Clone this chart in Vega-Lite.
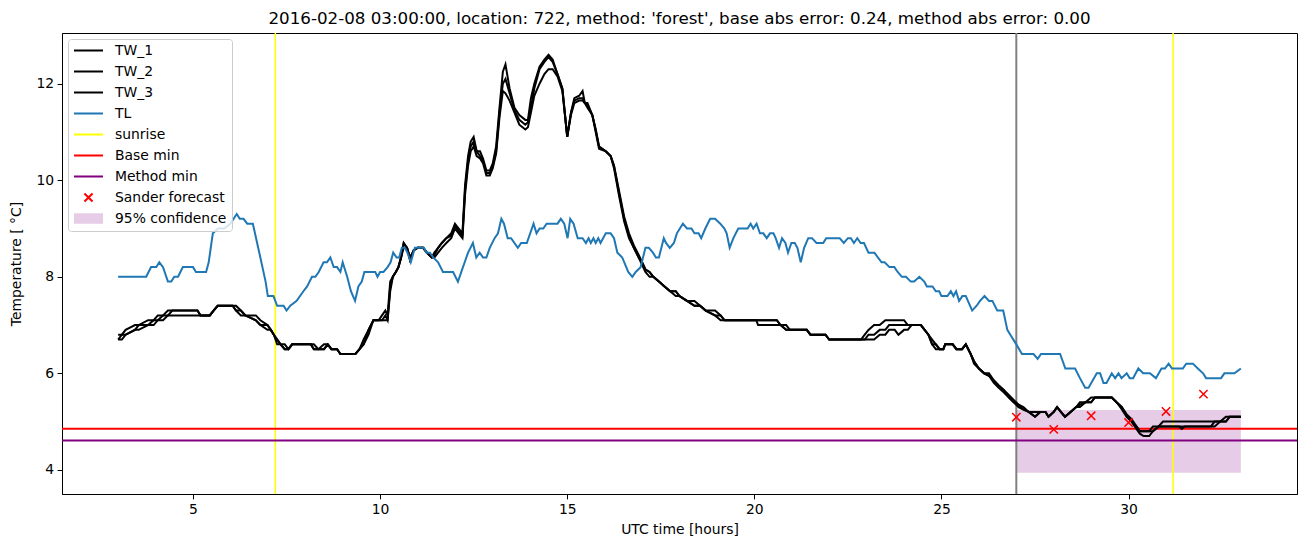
{
  "$schema": "https://vega.github.io/schema/vega-lite/v6.json",
  "width": 1235,
  "height": 461,
  "autosize": {"type": "none"},
  "padding": {"left": 62, "top": 33, "right": 13, "bottom": 53},
  "background": "white",
  "title": {"text": "2016-02-08 03:00:00, location: 722, method: 'forest', base abs error: 0.24, method abs error: 0.00", "font": "DejaVu Sans", "fontSize": 16.7, "fontWeight": "normal", "color": "black", "offset": 4, "anchor": "middle"},
  "config": {
    "view": {"stroke": "black", "strokeWidth": 1},
    "font": "DejaVu Sans",
    "axis": {"domainColor": "black", "tickColor": "black", "labelColor": "black", "titleColor": "black", "labelFont": "DejaVu Sans", "titleFont": "DejaVu Sans", "labelFontSize": 13.9, "titleFontSize": 13.9, "titleFontWeight": "normal", "tickSize": 4.9, "labelPadding": 3.5, "grid": false, "domainWidth": 1, "tickWidth": 1}
  },
  "datasets": {
    "tw": [
      {"t":3.0,"TW_1":6.8,"TW_2":6.7,"TW_3":6.7},{"t":3.1,"TW_1":6.8,"TW_2":6.7,"TW_3":6.8},{"t":3.2,"TW_1":6.9,"TW_2":6.8,"TW_3":6.8},{"t":3.45,"TW_1":7.0,"TW_2":6.9,"TW_3":6.9},{"t":3.55,"TW_1":7.0,"TW_2":6.9,"TW_3":7.0},{"t":3.8,"TW_1":7.1,"TW_2":7.0,"TW_3":7.0},{"t":3.95,"TW_1":7.1,"TW_2":7.0,"TW_3":7.1},{"t":4.06,"TW_1":7.2,"TW_2":7.1,"TW_3":7.1},{"t":4.2,"TW_1":7.2,"TW_2":7.1,"TW_3":7.2},{"t":4.33,"TW_1":7.3,"TW_2":7.2,"TW_3":7.2},{"t":4.45,"TW_1":7.3,"TW_2":7.2,"TW_3":7.3},{"t":5.12,"TW_1":7.3,"TW_2":7.2,"TW_3":7.3},{"t":5.2,"TW_1":7.2,"TW_2":7.2,"TW_3":7.2},{"t":5.45,"TW_1":7.2,"TW_2":7.2,"TW_3":7.2},{"t":5.55,"TW_1":7.3,"TW_2":7.3,"TW_3":7.3},{"t":5.66,"TW_1":7.4,"TW_2":7.4,"TW_3":7.4},{"t":6.06,"TW_1":7.4,"TW_2":7.4,"TW_3":7.4},{"t":6.15,"TW_1":7.3,"TW_2":7.3,"TW_3":7.4},{"t":6.28,"TW_1":7.3,"TW_2":7.2,"TW_3":7.3},{"t":6.4,"TW_1":7.2,"TW_2":7.2,"TW_3":7.2},{"t":6.68,"TW_1":7.2,"TW_2":7.1,"TW_3":7.1},{"t":6.8,"TW_1":7.1,"TW_2":7.0,"TW_3":7.0},{"t":6.99,"TW_1":7.0,"TW_2":6.9,"TW_3":7.0},{"t":7.08,"TW_1":6.9,"TW_2":6.9,"TW_3":6.9},{"t":7.16,"TW_1":6.8,"TW_2":6.8,"TW_3":6.8},{"t":7.25,"TW_1":6.7,"TW_2":6.6,"TW_3":6.7},{"t":7.34,"TW_1":6.6,"TW_2":6.6,"TW_3":6.6},{"t":7.45,"TW_1":6.6,"TW_2":6.5,"TW_3":6.5},{"t":7.55,"TW_1":6.5,"TW_2":6.5,"TW_3":6.5},{"t":7.65,"TW_1":6.6,"TW_2":6.6,"TW_3":6.6},{"t":8.15,"TW_1":6.6,"TW_2":6.6,"TW_3":6.6},{"t":8.23,"TW_1":6.6,"TW_2":6.5,"TW_3":6.5},{"t":8.35,"TW_1":6.5,"TW_2":6.5,"TW_3":6.5},{"t":8.5,"TW_1":6.5,"TW_2":6.5,"TW_3":6.6},{"t":8.6,"TW_1":6.6,"TW_2":6.6,"TW_3":6.6},{"t":8.7,"TW_1":6.5,"TW_2":6.5,"TW_3":6.5},{"t":8.85,"TW_1":6.5,"TW_2":6.5,"TW_3":6.5},{"t":8.94,"TW_1":6.4,"TW_2":6.4,"TW_3":6.4},{"t":9.34,"TW_1":6.4,"TW_2":6.4,"TW_3":6.4},{"t":9.45,"TW_1":6.5,"TW_2":6.5,"TW_3":6.5},{"t":9.56,"TW_1":6.7,"TW_2":6.6,"TW_3":6.6},{"t":9.69,"TW_1":6.9,"TW_2":6.8,"TW_3":6.9},{"t":9.82,"TW_1":7.1,"TW_2":7.1,"TW_3":7.1},{"t":9.96,"TW_1":7.1,"TW_2":7.1,"TW_3":7.1},{"t":10.05,"TW_1":7.2,"TW_2":7.1,"TW_3":7.1},{"t":10.14,"TW_1":7.3,"TW_2":7.1,"TW_3":7.2},{"t":10.2,"TW_1":7.2,"TW_2":7.1,"TW_3":7.1},{"t":10.27,"TW_1":7.9,"TW_2":7.7,"TW_3":7.8},{"t":10.34,"TW_1":8.0,"TW_2":8.0,"TW_3":8.0},{"t":10.42,"TW_1":8.1,"TW_2":8.1,"TW_3":8.1},{"t":10.49,"TW_1":8.2,"TW_2":8.2,"TW_3":8.2},{"t":10.56,"TW_1":8.4,"TW_2":8.4,"TW_3":8.4},{"t":10.63,"TW_1":8.7,"TW_2":8.6,"TW_3":8.7},{"t":10.72,"TW_1":8.6,"TW_2":8.6,"TW_3":8.6},{"t":10.8,"TW_1":8.35,"TW_2":8.4,"TW_3":8.35},{"t":10.9,"TW_1":8.55,"TW_2":8.55,"TW_3":8.55},{"t":11.0,"TW_1":8.6,"TW_2":8.6,"TW_3":8.6},{"t":11.15,"TW_1":8.6,"TW_2":8.6,"TW_3":8.6},{"t":11.25,"TW_1":8.5,"TW_2":8.5,"TW_3":8.5},{"t":11.38,"TW_1":8.4,"TW_2":8.4,"TW_3":8.4},{"t":11.45,"TW_1":8.5,"TW_2":8.4,"TW_3":8.45},{"t":11.55,"TW_1":8.6,"TW_2":8.5,"TW_3":8.6},{"t":11.65,"TW_1":8.7,"TW_2":8.6,"TW_3":8.7},{"t":11.77,"TW_1":8.8,"TW_2":8.7,"TW_3":8.8},{"t":11.9,"TW_1":8.9,"TW_2":8.8,"TW_3":8.85},{"t":12.0,"TW_1":9.1,"TW_2":9.0,"TW_3":9.05},{"t":12.1,"TW_1":9.0,"TW_2":8.9,"TW_3":8.95},{"t":12.2,"TW_1":8.9,"TW_2":8.8,"TW_3":8.85},{"t":12.27,"TW_1":9.9,"TW_2":9.7,"TW_3":9.8},{"t":12.35,"TW_1":10.5,"TW_2":10.3,"TW_3":10.4},{"t":12.42,"TW_1":10.8,"TW_2":10.6,"TW_3":10.7},{"t":12.5,"TW_1":10.9,"TW_2":10.7,"TW_3":10.8},{"t":12.58,"TW_1":10.6,"TW_2":10.5,"TW_3":10.6},{"t":12.67,"TW_1":10.6,"TW_2":10.45,"TW_3":10.5},{"t":12.75,"TW_1":10.45,"TW_2":10.35,"TW_3":10.4},{"t":12.84,"TW_1":10.2,"TW_2":10.1,"TW_3":10.15},{"t":12.93,"TW_1":10.2,"TW_2":10.1,"TW_3":10.15},{"t":13.01,"TW_1":10.35,"TW_2":10.25,"TW_3":10.3},{"t":13.1,"TW_1":10.7,"TW_2":10.55,"TW_3":10.6},{"t":13.19,"TW_1":11.5,"TW_2":11.3,"TW_3":11.4},{"t":13.28,"TW_1":12.25,"TW_2":11.85,"TW_3":12.0},{"t":13.35,"TW_1":12.4,"TW_2":11.8,"TW_3":12.1},{"t":13.46,"TW_1":11.9,"TW_2":11.65,"TW_3":11.8},{"t":13.59,"TW_1":11.5,"TW_2":11.4,"TW_3":11.45},{"t":13.72,"TW_1":11.35,"TW_2":11.15,"TW_3":11.25},{"t":13.88,"TW_1":11.25,"TW_2":11.05,"TW_3":11.15},{"t":13.95,"TW_1":11.25,"TW_2":11.1,"TW_3":11.2},{"t":14.03,"TW_1":11.7,"TW_2":11.4,"TW_3":11.5},{"t":14.12,"TW_1":12.0,"TW_2":11.75,"TW_3":11.9},{"t":14.26,"TW_1":12.35,"TW_2":12.0,"TW_3":12.3},{"t":14.39,"TW_1":12.5,"TW_2":12.2,"TW_3":12.45},{"t":14.5,"TW_1":12.6,"TW_2":12.3,"TW_3":12.55},{"t":14.61,"TW_1":12.5,"TW_2":12.3,"TW_3":12.45},{"t":14.74,"TW_1":12.2,"TW_2":12.15,"TW_3":12.2},{"t":14.87,"TW_1":11.9,"TW_2":11.85,"TW_3":11.9},{"t":15.0,"TW_1":10.9,"TW_2":10.9,"TW_3":10.9},{"t":15.1,"TW_1":11.4,"TW_2":11.35,"TW_3":11.4},{"t":15.19,"TW_1":11.7,"TW_2":11.6,"TW_3":11.65},{"t":15.32,"TW_1":11.75,"TW_2":11.65,"TW_3":11.7},{"t":15.41,"TW_1":11.85,"TW_2":11.65,"TW_3":11.7},{"t":15.47,"TW_1":11.6,"TW_2":11.6,"TW_3":11.6},{"t":15.54,"TW_1":11.6,"TW_2":11.5,"TW_3":11.55},{"t":15.67,"TW_1":11.35,"TW_2":11.35,"TW_3":11.35},{"t":15.76,"TW_1":11.05,"TW_2":11.0,"TW_3":11.05},{"t":15.85,"TW_1":10.7,"TW_2":10.65,"TW_3":10.7},{"t":16.03,"TW_1":10.6,"TW_2":10.6,"TW_3":10.6},{"t":16.16,"TW_1":10.5,"TW_2":10.5,"TW_3":10.5},{"t":16.25,"TW_1":10.3,"TW_2":10.25,"TW_3":10.3},{"t":16.38,"TW_1":9.8,"TW_2":9.7,"TW_3":9.75},{"t":16.52,"TW_1":9.25,"TW_2":9.15,"TW_3":9.2},{"t":16.65,"TW_1":8.9,"TW_2":8.8,"TW_3":8.85},{"t":16.78,"TW_1":8.65,"TW_2":8.6,"TW_3":8.6},{"t":16.91,"TW_1":8.45,"TW_2":8.4,"TW_3":8.4},{"t":17.0,"TW_1":8.3,"TW_2":8.25,"TW_3":8.3},{"t":17.09,"TW_1":8.15,"TW_2":8.1,"TW_3":8.15},{"t":17.2,"TW_1":8.1,"TW_2":8.0,"TW_3":8.1},{"t":17.3,"TW_1":8.0,"TW_2":8.0,"TW_3":8.0},{"t":17.45,"TW_1":7.9,"TW_2":7.9,"TW_3":7.9},{"t":17.6,"TW_1":7.8,"TW_2":7.8,"TW_3":7.8},{"t":17.75,"TW_1":7.7,"TW_2":7.7,"TW_3":7.7},{"t":17.9,"TW_1":7.7,"TW_2":7.6,"TW_3":7.7},{"t":18.0,"TW_1":7.6,"TW_2":7.6,"TW_3":7.6},{"t":18.2,"TW_1":7.5,"TW_2":7.5,"TW_3":7.5},{"t":18.4,"TW_1":7.5,"TW_2":7.4,"TW_3":7.4},{"t":18.55,"TW_1":7.4,"TW_2":7.4,"TW_3":7.4},{"t":18.7,"TW_1":7.3,"TW_2":7.3,"TW_3":7.3},{"t":18.95,"TW_1":7.3,"TW_2":7.2,"TW_3":7.2},{"t":19.1,"TW_1":7.2,"TW_2":7.1,"TW_3":7.2},{"t":19.2,"TW_1":7.1,"TW_2":7.1,"TW_3":7.1},{"t":20.05,"TW_1":7.1,"TW_2":7.1,"TW_3":7.1},{"t":20.1,"TW_1":7.1,"TW_2":7.0,"TW_3":7.1},{"t":20.6,"TW_1":7.1,"TW_2":7.0,"TW_3":7.1},{"t":20.7,"TW_1":7.0,"TW_2":7.0,"TW_3":7.0},{"t":20.85,"TW_1":7.0,"TW_2":6.9,"TW_3":6.9},{"t":20.95,"TW_1":6.9,"TW_2":6.9,"TW_3":6.9},{"t":21.4,"TW_1":6.9,"TW_2":6.9,"TW_3":6.9},{"t":21.5,"TW_1":6.8,"TW_2":6.8,"TW_3":6.8},{"t":21.9,"TW_1":6.8,"TW_2":6.8,"TW_3":6.8},{"t":22.0,"TW_1":6.7,"TW_2":6.7,"TW_3":6.7},{"t":22.85,"TW_1":6.7,"TW_2":6.7,"TW_3":6.7},{"t":22.95,"TW_1":6.8,"TW_2":6.7,"TW_3":6.7},{"t":23.05,"TW_1":6.9,"TW_2":6.7,"TW_3":6.8},{"t":23.2,"TW_1":7.0,"TW_2":6.7,"TW_3":6.8},{"t":23.35,"TW_1":7.0,"TW_2":6.8,"TW_3":6.9},{"t":23.5,"TW_1":7.1,"TW_2":6.8,"TW_3":6.9},{"t":23.6,"TW_1":7.1,"TW_2":6.9,"TW_3":7.0},{"t":23.75,"TW_1":7.1,"TW_2":6.9,"TW_3":7.0},{"t":23.85,"TW_1":7.1,"TW_2":6.8,"TW_3":7.0},{"t":24.0,"TW_1":7.1,"TW_2":6.9,"TW_3":7.0},{"t":24.1,"TW_1":7.0,"TW_2":6.9,"TW_3":7.0},{"t":24.2,"TW_1":7.0,"TW_2":7.0,"TW_3":7.0},{"t":24.45,"TW_1":7.0,"TW_2":7.0,"TW_3":7.0},{"t":24.55,"TW_1":6.9,"TW_2":6.9,"TW_3":6.9},{"t":24.65,"TW_1":6.8,"TW_2":6.8,"TW_3":6.8},{"t":24.75,"TW_1":6.7,"TW_2":6.6,"TW_3":6.6},{"t":24.85,"TW_1":6.6,"TW_2":6.5,"TW_3":6.6},{"t":24.95,"TW_1":6.5,"TW_2":6.5,"TW_3":6.5},{"t":25.05,"TW_1":6.5,"TW_2":6.5,"TW_3":6.5},{"t":25.1,"TW_1":6.6,"TW_2":6.6,"TW_3":6.6},{"t":25.3,"TW_1":6.6,"TW_2":6.6,"TW_3":6.6},{"t":25.4,"TW_1":6.5,"TW_2":6.5,"TW_3":6.5},{"t":25.55,"TW_1":6.5,"TW_2":6.5,"TW_3":6.5},{"t":25.65,"TW_1":6.6,"TW_2":6.6,"TW_3":6.6},{"t":25.78,"TW_1":6.4,"TW_2":6.4,"TW_3":6.4},{"t":25.87,"TW_1":6.25,"TW_2":6.2,"TW_3":6.25},{"t":26.0,"TW_1":6.1,"TW_2":6.1,"TW_3":6.1},{"t":26.14,"TW_1":6.0,"TW_2":6.0,"TW_3":6.0},{"t":26.27,"TW_1":6.0,"TW_2":5.95,"TW_3":5.95},{"t":26.4,"TW_1":5.85,"TW_2":5.8,"TW_3":5.85},{"t":26.53,"TW_1":5.75,"TW_2":5.7,"TW_3":5.75},{"t":26.67,"TW_1":5.65,"TW_2":5.6,"TW_3":5.65},{"t":26.8,"TW_1":5.55,"TW_2":5.5,"TW_3":5.5},{"t":26.93,"TW_1":5.45,"TW_2":5.4,"TW_3":5.4},{"t":27.06,"TW_1":5.35,"TW_2":5.3,"TW_3":5.35},{"t":27.19,"TW_1":5.3,"TW_2":5.25,"TW_3":5.25},{"t":27.33,"TW_1":5.2,"TW_2":5.2,"TW_3":5.2},{"t":27.5,"TW_1":5.2,"TW_2":5.1,"TW_3":5.1},{"t":27.64,"TW_1":5.2,"TW_2":5.2,"TW_3":5.2},{"t":27.78,"TW_1":5.2,"TW_2":5.2,"TW_3":5.2},{"t":27.86,"TW_1":5.1,"TW_2":5.1,"TW_3":5.1},{"t":28.0,"TW_1":5.2,"TW_2":5.2,"TW_3":5.2},{"t":28.09,"TW_1":5.3,"TW_2":5.3,"TW_3":5.3},{"t":28.19,"TW_1":5.2,"TW_2":5.2,"TW_3":5.2},{"t":28.3,"TW_1":5.1,"TW_2":5.1,"TW_3":5.1},{"t":28.45,"TW_1":5.2,"TW_2":5.2,"TW_3":5.2},{"t":28.6,"TW_1":5.3,"TW_2":5.3,"TW_3":5.3},{"t":28.7,"TW_1":5.4,"TW_2":5.3,"TW_3":5.35},{"t":28.85,"TW_1":5.4,"TW_2":5.4,"TW_3":5.4},{"t":29.0,"TW_1":5.5,"TW_2":5.4,"TW_3":5.4},{"t":29.1,"TW_1":5.5,"TW_2":5.5,"TW_3":5.5},{"t":29.55,"TW_1":5.5,"TW_2":5.5,"TW_3":5.5},{"t":29.68,"TW_1":5.4,"TW_2":5.4,"TW_3":5.4},{"t":29.82,"TW_1":5.3,"TW_2":5.25,"TW_3":5.3},{"t":29.95,"TW_1":5.15,"TW_2":5.1,"TW_3":5.1},{"t":30.08,"TW_1":5.05,"TW_2":5.0,"TW_3":5.0},{"t":30.21,"TW_1":4.9,"TW_2":4.85,"TW_3":4.9},{"t":30.3,"TW_1":4.8,"TW_2":4.75,"TW_3":4.8},{"t":30.4,"TW_1":4.8,"TW_2":4.7,"TW_3":4.8},{"t":30.55,"TW_1":4.8,"TW_2":4.7,"TW_3":4.8},{"t":30.65,"TW_1":4.9,"TW_2":4.8,"TW_3":4.8},{"t":30.8,"TW_1":4.9,"TW_2":4.9,"TW_3":4.9},{"t":30.92,"TW_1":5.0,"TW_2":4.9,"TW_3":4.9},{"t":31.35,"TW_1":5.0,"TW_2":4.9,"TW_3":4.9},{"t":31.42,"TW_1":5.0,"TW_2":4.85,"TW_3":4.9},{"t":31.5,"TW_1":5.0,"TW_2":4.9,"TW_3":4.9},{"t":32.2,"TW_1":5.0,"TW_2":4.9,"TW_3":4.9},{"t":32.3,"TW_1":5.0,"TW_2":4.9,"TW_3":5.0},{"t":32.45,"TW_1":5.0,"TW_2":5.0,"TW_3":5.0},{"t":32.6,"TW_1":5.0,"TW_2":5.0,"TW_3":5.1},{"t":32.7,"TW_1":5.1,"TW_2":5.1,"TW_3":5.1},{"t":33.0,"TW_1":5.1,"TW_2":5.1,"TW_3":5.1}
    ],
    "tl": [
      {"t":3.0,"v":8.0},{"t":3.75,"v":8.0},{"t":3.88,"v":8.2},{"t":4.02,"v":8.2},{"t":4.1,"v":8.3},{"t":4.2,"v":8.2},{"t":4.33,"v":7.9},{"t":4.42,"v":7.9},{"t":4.5,"v":8.0},{"t":4.6,"v":8.0},{"t":4.73,"v":8.2},{"t":5.0,"v":8.2},{"t":5.08,"v":8.1},{"t":5.35,"v":8.1},{"t":5.42,"v":8.3},{"t":5.53,"v":8.9},{"t":5.67,"v":9.0},{"t":5.83,"v":9.0},{"t":6.0,"v":9.1},{"t":6.17,"v":9.3},{"t":6.25,"v":9.2},{"t":6.35,"v":9.2},{"t":6.45,"v":9.1},{"t":6.6,"v":9.1},{"t":6.8,"v":8.4},{"t":6.94,"v":7.9},{"t":7.0,"v":7.6},{"t":7.15,"v":7.6},{"t":7.25,"v":7.4},{"t":7.42,"v":7.4},{"t":7.5,"v":7.3},{"t":7.6,"v":7.4},{"t":7.77,"v":7.5},{"t":7.95,"v":7.7},{"t":8.05,"v":7.8},{"t":8.18,"v":8.0},{"t":8.27,"v":8.0},{"t":8.36,"v":8.1},{"t":8.49,"v":8.3},{"t":8.58,"v":8.3},{"t":8.67,"v":8.4},{"t":8.76,"v":8.2},{"t":8.85,"v":8.2},{"t":8.94,"v":8.1},{"t":9.0,"v":8.3},{"t":9.12,"v":8.0},{"t":9.22,"v":7.7},{"t":9.33,"v":7.5},{"t":9.42,"v":7.8},{"t":9.51,"v":7.9},{"t":9.58,"v":8.1},{"t":9.87,"v":8.1},{"t":9.93,"v":8.0},{"t":10.0,"v":8.1},{"t":10.09,"v":8.1},{"t":10.2,"v":8.2},{"t":10.28,"v":8.3},{"t":10.35,"v":8.5},{"t":10.44,"v":8.4},{"t":10.51,"v":8.4},{"t":10.58,"v":8.6},{"t":10.66,"v":8.6},{"t":10.73,"v":8.5},{"t":10.82,"v":8.3},{"t":10.93,"v":8.6},{"t":11.06,"v":8.6},{"t":11.17,"v":8.6},{"t":11.24,"v":8.5},{"t":11.33,"v":8.5},{"t":11.42,"v":8.4},{"t":11.55,"v":8.3},{"t":11.68,"v":8.1},{"t":11.95,"v":8.1},{"t":12.08,"v":7.9},{"t":12.17,"v":8.1},{"t":12.26,"v":8.3},{"t":12.35,"v":8.5},{"t":12.48,"v":8.7},{"t":12.57,"v":8.4},{"t":12.66,"v":8.5},{"t":12.75,"v":8.4},{"t":12.84,"v":8.4},{"t":12.93,"v":8.6},{"t":13.06,"v":8.8},{"t":13.15,"v":8.9},{"t":13.24,"v":9.2},{"t":13.31,"v":9.1},{"t":13.41,"v":8.8},{"t":13.5,"v":8.8},{"t":13.68,"v":8.6},{"t":13.77,"v":8.7},{"t":13.92,"v":8.7},{"t":14.1,"v":9.1},{"t":14.18,"v":8.9},{"t":14.26,"v":9.0},{"t":14.36,"v":9.0},{"t":14.45,"v":9.1},{"t":14.74,"v":9.1},{"t":14.83,"v":9.2},{"t":14.92,"v":9.1},{"t":15.01,"v":8.8},{"t":15.08,"v":9.2},{"t":15.17,"v":9.1},{"t":15.28,"v":8.8},{"t":15.41,"v":8.8},{"t":15.5,"v":8.7},{"t":15.57,"v":8.8},{"t":15.63,"v":8.7},{"t":15.7,"v":8.8},{"t":15.76,"v":8.7},{"t":15.83,"v":8.8},{"t":15.89,"v":8.7},{"t":16.03,"v":8.9},{"t":16.16,"v":8.9},{"t":16.25,"v":8.8},{"t":16.34,"v":8.5},{"t":16.47,"v":8.4},{"t":16.63,"v":8.1},{"t":16.74,"v":8.0},{"t":16.83,"v":8.1},{"t":16.96,"v":8.2},{"t":17.09,"v":8.6},{"t":17.18,"v":8.6},{"t":17.29,"v":8.5},{"t":17.37,"v":8.4},{"t":17.45,"v":8.4},{"t":17.58,"v":8.8},{"t":17.64,"v":8.7},{"t":17.74,"v":8.6},{"t":17.85,"v":8.7},{"t":17.93,"v":8.9},{"t":18.09,"v":9.1},{"t":18.2,"v":9.0},{"t":18.32,"v":9.0},{"t":18.4,"v":8.9},{"t":18.51,"v":8.9},{"t":18.58,"v":8.8},{"t":18.69,"v":9.0},{"t":18.82,"v":9.2},{"t":18.95,"v":9.2},{"t":19.09,"v":9.1},{"t":19.2,"v":9.0},{"t":19.26,"v":8.9},{"t":19.34,"v":8.6},{"t":19.44,"v":8.8},{"t":19.57,"v":9.0},{"t":19.82,"v":9.0},{"t":19.9,"v":9.1},{"t":19.97,"v":9.0},{"t":20.06,"v":9.1},{"t":20.15,"v":8.9},{"t":20.24,"v":8.9},{"t":20.33,"v":8.8},{"t":20.42,"v":8.9},{"t":20.51,"v":8.9},{"t":20.57,"v":8.8},{"t":20.66,"v":8.6},{"t":20.74,"v":8.8},{"t":20.83,"v":8.7},{"t":20.9,"v":8.5},{"t":20.99,"v":8.7},{"t":21.08,"v":8.7},{"t":21.15,"v":8.6},{"t":21.24,"v":8.3},{"t":21.33,"v":8.6},{"t":21.44,"v":8.8},{"t":21.54,"v":8.8},{"t":21.66,"v":8.7},{"t":21.84,"v":8.7},{"t":21.92,"v":8.8},{"t":22.28,"v":8.8},{"t":22.39,"v":8.7},{"t":22.5,"v":8.8},{"t":22.58,"v":8.8},{"t":22.66,"v":8.7},{"t":22.75,"v":8.8},{"t":22.84,"v":8.7},{"t":22.93,"v":8.7},{"t":23.05,"v":8.5},{"t":23.21,"v":8.5},{"t":23.3,"v":8.4},{"t":23.4,"v":8.3},{"t":23.48,"v":8.3},{"t":23.61,"v":8.2},{"t":23.74,"v":8.2},{"t":23.83,"v":8.1},{"t":23.94,"v":8.0},{"t":24.05,"v":8.0},{"t":24.18,"v":7.9},{"t":24.27,"v":7.9},{"t":24.41,"v":8.0},{"t":24.54,"v":7.9},{"t":24.61,"v":7.8},{"t":24.76,"v":7.8},{"t":24.85,"v":7.7},{"t":24.94,"v":7.7},{"t":25.0,"v":7.6},{"t":25.16,"v":7.6},{"t":25.25,"v":7.7},{"t":25.32,"v":7.6},{"t":25.39,"v":7.7},{"t":25.47,"v":7.5},{"t":25.56,"v":7.6},{"t":25.65,"v":7.6},{"t":25.82,"v":7.3},{"t":25.94,"v":7.4},{"t":26.03,"v":7.5},{"t":26.15,"v":7.6},{"t":26.27,"v":7.5},{"t":26.36,"v":7.5},{"t":26.49,"v":7.3},{"t":26.65,"v":7.3},{"t":26.76,"v":6.9},{"t":26.84,"v":6.8},{"t":27.0,"v":6.6},{"t":27.15,"v":6.4},{"t":27.46,"v":6.4},{"t":27.57,"v":6.3},{"t":27.66,"v":6.4},{"t":28.17,"v":6.4},{"t":28.31,"v":6.1},{"t":28.57,"v":6.1},{"t":28.7,"v":5.9},{"t":28.84,"v":5.7},{"t":28.93,"v":5.7},{"t":29.15,"v":6.0},{"t":29.24,"v":6.0},{"t":29.33,"v":5.8},{"t":29.41,"v":5.8},{"t":29.55,"v":6.0},{"t":29.64,"v":5.9},{"t":29.73,"v":6.0},{"t":29.81,"v":5.9},{"t":29.95,"v":6.0},{"t":30.03,"v":5.9},{"t":30.12,"v":5.9},{"t":30.26,"v":6.1},{"t":30.39,"v":6.0},{"t":30.57,"v":6.0},{"t":30.73,"v":5.9},{"t":30.88,"v":6.1},{"t":30.97,"v":6.1},{"t":31.07,"v":6.2},{"t":31.16,"v":6.1},{"t":31.45,"v":6.1},{"t":31.54,"v":6.2},{"t":31.72,"v":6.2},{"t":31.85,"v":6.1},{"t":31.99,"v":6.0},{"t":32.07,"v":5.9},{"t":32.47,"v":5.9},{"t":32.56,"v":6.0},{"t":32.83,"v":6.0},{"t":33.0,"v":6.1}
    ]
  },
  "layer": [
    {
      "data": {"values": [{"series": "95% confidence", "t1": 27.0, "t2": 33.0, "y1": 3.94, "y2": 5.24}]},
      "mark": {"type": "rect", "opacity": 1},
      "encoding": {
        "x": {"field": "t1", "type": "quantitative", "scale": {"domain": [1.5, 34.5], "nice": false, "zero": false}, "axis": {"values": [5, 10, 15, 20, 25, 30], "title": "UTC time [hours]", "titlePadding": 6}},
        "x2": {"field": "t2"},
        "y": {"field": "y1", "type": "quantitative", "scale": {"domain": [3.5, 13.05], "nice": false, "zero": false}, "axis": {"values": [4, 6, 8, 10, 12], "title": "Temperature [ °C]", "titlePadding": 12}},
        "y2": {"field": "y2"},
        "fill": {
          "field": "series", "type": "nominal",
          "scale": {"domain": ["TW_1", "TW_2", "TW_3", "TL", "sunrise", "Base min", "Method min", "Sander forecast", "95% confidence"], "range": ["transparent", "transparent", "transparent", "transparent", "transparent", "transparent", "transparent", "transparent", "#e6cce6"]},
          "legend": {"title": null, "orient": "none", "legendX": 6, "legendY": 6, "padding": 5, "fillColor": "rgba(255,255,255,0.8)", "strokeColor": "#cccccc", "cornerRadius": 3, "labelFont": "DejaVu Sans", "labelFontSize": 13.9, "labelColor": "black", "labelOffset": 11, "symbolSize": 841, "symbolStrokeWidth": 2, "clipHeight": 13, "rowPadding": 6, "symbolOpacity": 1}
        }
      }
    },
    {
      "data": {"values": [{"t": 27.0}]},
      "mark": {"type": "rule", "color": "gray", "strokeWidth": 2},
      "encoding": {"x": {"field": "t", "type": "quantitative"}}
    },
    {
      "data": {"values": [{"series": "sunrise", "t": 7.2}, {"series": "sunrise", "t": 31.19}]},
      "mark": {"type": "rule", "strokeWidth": 1.5},
      "encoding": {
        "x": {"field": "t", "type": "quantitative"},
        "stroke": {
          "field": "series", "type": "nominal",
          "scale": {"domain": ["TW_1", "TW_2", "TW_3", "TL", "sunrise", "Base min", "Method min", "Sander forecast", "95% confidence"], "range": ["black", "black", "black", "#1f77b4", "yellow", "red", "purple", "red", "transparent"]},
          "legend": {"title": null, "orient": "none", "legendX": 6, "legendY": 6, "padding": 5, "fillColor": "rgba(255,255,255,0.8)", "strokeColor": "#cccccc", "cornerRadius": 3, "labelFont": "DejaVu Sans", "labelFontSize": 13.9, "labelColor": "black", "labelOffset": 11, "symbolSize": 841, "symbolStrokeWidth": 2, "clipHeight": 13, "rowPadding": 6, "symbolOpacity": 1}
        }
      }
    },
    {
      "data": {"values": [{"series": "Base min", "v": 4.85}, {"series": "Method min", "v": 4.61}]},
      "mark": {"type": "rule", "strokeWidth": 2},
      "encoding": {"y": {"field": "v", "type": "quantitative"}, "stroke": {"field": "series", "type": "nominal"}}
    },
    {
      "data": {"name": "tw"},
      "transform": [{"fold": ["TW_1", "TW_2", "TW_3"], "as": ["series", "v"]}],
      "mark": {"type": "line", "strokeWidth": 2},
      "encoding": {
        "x": {"field": "t", "type": "quantitative"},
        "y": {"field": "v", "type": "quantitative"},
        "detail": {"field": "series"},
        "stroke": {"field": "series", "type": "nominal"}
      }
    },
    {
      "data": {"name": "tl"},
      "transform": [{"fold": ["v"], "as": ["k", "val"]}],
      "mark": {"type": "line", "strokeWidth": 2},
      "encoding": {
        "x": {"field": "t", "type": "quantitative"},
        "y": {"field": "val", "type": "quantitative"},
        "stroke": {"datum": "TL", "type": "nominal"}
      }
    },
    {
      "data": {"values": [{"series": "Sander forecast", "t": 27, "v": 5.09}, {"series": "Sander forecast", "t": 28, "v": 4.84}, {"series": "Sander forecast", "t": 29, "v": 5.12}, {"series": "Sander forecast", "t": 30, "v": 4.98}, {"series": "Sander forecast", "t": 31, "v": 5.21}, {"series": "Sander forecast", "t": 32, "v": 5.57}]},
      "mark": {"type": "point", "size": 880, "filled": false, "strokeWidth": 1.5, "opacity": 1},
      "encoding": {
        "x": {"field": "t", "type": "quantitative"},
        "y": {"field": "v", "type": "quantitative"},
        "stroke": {"field": "series", "type": "nominal"},
        "shape": {
          "field": "series", "type": "nominal",
          "scale": {"domain": ["TW_1", "TW_2", "TW_3", "TL", "sunrise", "Base min", "Method min", "Sander forecast", "95% confidence"], "range": ["stroke", "stroke", "stroke", "stroke", "stroke", "stroke", "stroke", "M-0.28,-0.28L0.28,0.28M-0.28,0.28L0.28,-0.28", "M-1,-0.36H1V0.36H-1Z"]},
          "legend": {"title": null, "orient": "none", "legendX": 6, "legendY": 6, "padding": 5, "fillColor": "rgba(255,255,255,0.8)", "strokeColor": "#cccccc", "cornerRadius": 3, "labelFont": "DejaVu Sans", "labelFontSize": 13.9, "labelColor": "black", "labelOffset": 11, "symbolSize": 841, "symbolStrokeWidth": 2, "clipHeight": 13, "rowPadding": 6, "symbolOpacity": 1}
        }
      }
    }
  ]
}
